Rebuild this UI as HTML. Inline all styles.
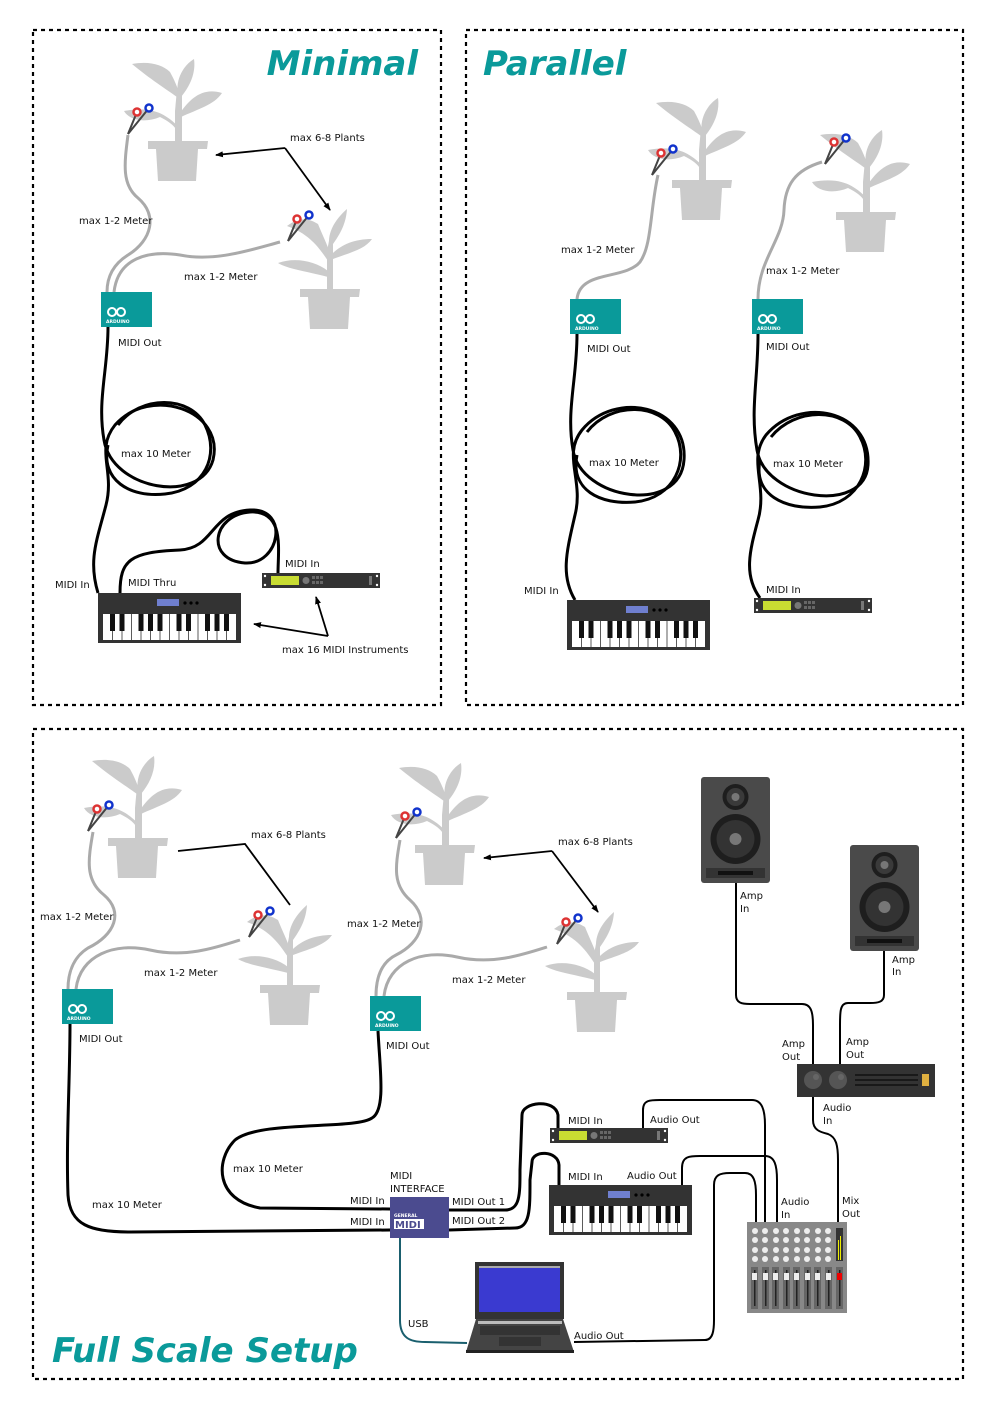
<!DOCTYPE html>
<html><head><meta charset="utf-8"><style>
html,body{margin:0;padding:0;background:#fff}
svg{display:block}
text{font-family:"DejaVu Sans","Liberation Sans",sans-serif;font-size:10px;fill:#111}
.t{font-weight:bold;font-style:italic;font-size:34px;fill:#0a9a9a}
.g{fill:none;stroke:#aaa;stroke-width:3}
.c{fill:none;stroke:#000;stroke-width:3}
.a{fill:none;stroke:#000;stroke-width:1.8}
.thin{fill:none;stroke:#000;stroke-width:2}
</style></head><body>
<svg width="992" height="1403" viewBox="0 0 992 1403" xmlns="http://www.w3.org/2000/svg">
<defs>
<marker id="ar" markerWidth="8" markerHeight="8" refX="7" refY="4" orient="auto" markerUnits="userSpaceOnUse"><path d="M0,1 L8,4 L0,7 z" fill="#000"/></marker>
<g id="plantA" fill="#cbcbcb">
 <path d="M-3,0 L-3,-30 L-1,-52 L4,-52 L4,-30 L4,0 z"/>
 <path d="M0,-46 C-3,-62 6,-76 16,-82 C18,-68 12,-55 3,-44 z"/>
 <path d="M-1,-44 C-12,-52 -28,-62 -46,-77 C-30,-80 -16,-77 -8,-69 C-3,-60 0,-52 2,-46 z"/>
 <path d="M2,-28 C12,-42 24,-54 44,-48 C36,-36 20,-32 3,-24 z"/>
 <path d="M1,-14 C-10,-24 -22,-36 -54,-30 C-48,-20 -32,-18 -18,-24 C-10,-20 -4,-16 -1,-10 z"/>
 <path d="M-30,0 L30,0 L29,8 L-30,8 z"/>
 <path d="M-22,8 L20,8 L18,40 L-20,40 z"/>
</g>
<g id="plantB" fill="#cbcbcb">
 <path d="M-3,0 L-3,-38 L-1,-48 L3,-48 L3,-38 L3,0 z"/>
 <path d="M-1,-45 C-2,-60 8,-72 17,-80 C16,-65 10,-55 3,-45 z"/>
 <path d="M2,-35 C12,-45 25,-50 42,-50 C35,-40 22,-37 3,-30 z"/>
 <path d="M-2,-18 C-15,-28 -35,-32 -52,-26 C-42,-20 -25,-18 -2,-12 z"/>
 <path d="M-2,-28 C-10,-40 -20,-55 -43,-63 C-30,-73 -20,-70 -12,-65 C-8,-55 -3,-45 0,-36 z"/>
 <path d="M-30,0 L30,0 L29,8 L-30,8 z"/>
 <path d="M-22,8 L20,8 L18,40 L-20,40 z"/>
</g>
<g id="ard">
 <rect x="0" y="0" width="51" height="35" fill="#0a9a9a"/>
 <circle cx="11" cy="20" r="4" fill="none" stroke="#fff" stroke-width="2"/>
 <circle cx="20" cy="20" r="4" fill="none" stroke="#fff" stroke-width="2"/>
 <text x="5" y="31" style="font-size:4.5px;fill:#fff;font-weight:bold">ARDUINO</text>
</g>
<g id="kb">
 <rect x="0" y="0" width="143" height="50" fill="#333"/>
 <rect x="59" y="6" width="22" height="7" fill="#6f7fcf"/>
 <circle cx="87" cy="10" r="1.6" fill="#000"/><circle cx="93" cy="10" r="1.6" fill="#000"/><circle cx="99" cy="10" r="1.6" fill="#000"/>
 <rect x="5" y="21" width="133" height="26" fill="#fff"/>
 <g stroke="#333" stroke-width="0.8">
  <line x1="14.5" y1="21" x2="14.5" y2="47"/><line x1="24" y1="21" x2="24" y2="47"/><line x1="33.5" y1="21" x2="33.5" y2="47"/><line x1="43" y1="21" x2="43" y2="47"/><line x1="52.5" y1="21" x2="52.5" y2="47"/><line x1="62" y1="21" x2="62" y2="47"/><line x1="71.5" y1="21" x2="71.5" y2="47"/><line x1="81" y1="21" x2="81" y2="47"/><line x1="90.5" y1="21" x2="90.5" y2="47"/><line x1="100" y1="21" x2="100" y2="47"/><line x1="109.5" y1="21" x2="109.5" y2="47"/><line x1="119" y1="21" x2="119" y2="47"/><line x1="128.5" y1="21" x2="128.5" y2="47"/>
 </g>
 <g fill="#111">
  <rect x="12" y="21" width="5" height="17"/><rect x="21.5" y="21" width="5" height="17"/><rect x="40.5" y="21" width="5" height="17"/><rect x="50" y="21" width="5" height="17"/><rect x="59.5" y="21" width="5" height="17"/><rect x="78.5" y="21" width="5" height="17"/><rect x="88" y="21" width="5" height="17"/><rect x="107" y="21" width="5" height="17"/><rect x="116.5" y="21" width="5" height="17"/><rect x="126" y="21" width="5" height="17"/>
 </g>
</g>
<g id="mod">
 <rect x="0" y="0" width="118" height="15" fill="#333"/>
 <rect x="9" y="3" width="28" height="9" fill="#c8dc32"/>
 <circle cx="44" cy="7.5" r="3.5" fill="#777"/>
 <g fill="#666"><rect x="50" y="3" width="3" height="3"/><rect x="54" y="3" width="3" height="3"/><rect x="58" y="3" width="3" height="3"/><rect x="50" y="8" width="3" height="3"/><rect x="54" y="8" width="3" height="3"/><rect x="58" y="8" width="3" height="3"/></g>
 <rect x="107" y="3" width="3" height="9" fill="#777"/>
 <g fill="#fff"><circle cx="3" cy="3" r="1.2"/><circle cx="3" cy="12" r="1.2"/><circle cx="115" cy="3" r="1.2"/><circle cx="115" cy="12" r="1.2"/></g>
</g>
<g id="el">
 <line x1="0" y1="0" x2="-9" y2="22" stroke="#444" stroke-width="2"/>
 <line x1="12" y1="-4" x2="-9" y2="22" stroke="#444" stroke-width="2"/>
 <circle cx="0" cy="0" r="3.5" fill="#fff" stroke="#d33" stroke-width="2.5"/>
 <circle cx="12" cy="-4" r="3.5" fill="#fff" stroke="#13c" stroke-width="2.5"/>
</g>
<g id="spk">
 <rect x="0" y="0" width="69" height="106" rx="3" fill="#4a4a4a"/>
 <circle cx="34.5" cy="20" r="13" fill="#1e1e1e"/><circle cx="34.5" cy="20" r="9" fill="#3a3a3a"/><circle cx="34.5" cy="20" r="4" fill="#777"/>
 <circle cx="34.5" cy="62" r="25" fill="#1e1e1e"/><circle cx="34.5" cy="62" r="19" fill="#333"/><circle cx="34.5" cy="62" r="6" fill="#777"/>
 <rect x="5" y="91" width="59" height="10" fill="#333"/><rect x="17" y="94" width="35" height="4" fill="#111"/>
</g>
</defs>

<g fill="none" stroke="#000" stroke-width="2.2" stroke-dasharray="4,4">
<rect x="33" y="30" width="408" height="675"/>
<rect x="466" y="30" width="497" height="675"/>
<rect x="33" y="729" width="930" height="650"/>
</g>
<text x="418" y="75" class="t" text-anchor="end">Minimal</text>
<text x="483" y="75" class="t">Parallel</text>
<text x="52" y="1362" class="t">Full Scale Setup</text>

<!-- ===== MINIMAL ===== -->
<use href="#plantA" x="178" y="141"/>
<use href="#plantB" x="330" y="289"/>
<path class="g" d="M128,135 C124,165 122,185 138,198 C158,215 152,240 128,255 C112,265 107,278 107,292"/>
<path class="g" d="M280,242 C250,250 215,262 180,255 C148,250 118,258 114,292"/>
<use href="#el" x="137" y="112"/>
<use href="#el" x="297" y="219"/>
<use href="#ard" x="101" y="292"/>
<path class="c" d="M108,327 C108,370 97,400 104,440 C112,490 200,505 213,460 C225,410 150,385 115,425 C95,450 115,470 106,505 C97,540 88,560 98,593"/>
<path class="c" d="M108,445 C100,480 130,498 165,494 C205,490 220,455 205,425 C190,395 140,395 118,425"/>
<path class="c" d="M120,593 C120,560 130,552 180,550 C215,548 210,512 250,510 C290,508 280,565 245,563 C205,560 212,515 250,512 C285,510 278,550 278,573"/>
<use href="#kb" x="98" y="593"/>
<use href="#mod" x="262" y="573"/>
<text x="79" y="224">max 1-2 Meter</text>
<text x="184" y="280">max 1-2 Meter</text>
<text x="118" y="346">MIDI Out</text>
<text x="121" y="457">max 10 Meter</text>
<text x="55" y="588">MIDI In</text>
<text x="128" y="586">MIDI Thru</text>
<text x="285" y="567">MIDI In</text>
<text x="290" y="141">max 6-8 Plants</text>
<text x="282" y="653">max 16 MIDI Instruments</text>
<path class="a" d="M285,148 L216,155" marker-end="url(#ar)"/>
<path class="a" d="M285,148 L330,210" marker-end="url(#ar)"/>
<path class="a" d="M328,636 L254,624" marker-end="url(#ar)"/>
<path class="a" d="M328,636 L316,597" marker-end="url(#ar)"/>

<!-- ===== PARALLEL ===== -->
<use href="#plantA" x="702" y="180"/>
<use href="#plantA" x="866" y="212"/>
<path class="g" d="M658,175 C650,210 652,245 640,262 C625,280 580,270 577,299"/>
<path class="g" d="M822,162 C795,170 785,185 784,210 C783,240 758,260 758,299"/>
<use href="#el" x="661" y="153"/>
<use href="#el" x="834" y="142"/>
<use href="#ard" x="570" y="299"/>
<use href="#ard" x="752" y="299"/>
<path class="c" d="M577,334 C577,380 566,410 573,450 C581,500 680,515 684,460 C688,405 615,390 582,430 C562,455 584,480 575,515 C567,550 560,575 575,600"/>
<path class="c" d="M577,455 C570,490 600,505 635,502 C675,498 690,460 675,432 C660,402 610,402 587,432"/>
<path class="c" d="M758,334 C758,380 750,410 757,450 C765,500 865,515 868,465 C871,410 800,395 766,435 C747,460 768,485 758,520 C750,550 743,575 760,598"/>
<path class="c" d="M760,460 C753,495 785,510 820,507 C860,503 875,465 860,437 C845,407 795,407 771,437"/>
<use href="#kb" x="567" y="600"/>
<use href="#mod" x="754" y="598"/>
<text x="561" y="253">max 1-2 Meter</text>
<text x="766" y="274">max 1-2 Meter</text>
<text x="587" y="352">MIDI Out</text>
<text x="766" y="350">MIDI Out</text>
<text x="589" y="466">max 10 Meter</text>
<text x="773" y="467">max 10 Meter</text>
<text x="524" y="594">MIDI In</text>
<text x="766" y="593">MIDI In</text>

<!-- ===== FULL ===== -->
<use href="#plantA" x="138" y="838"/>
<use href="#plantB" x="290" y="985"/>
<use href="#plantA" x="445" y="845"/>
<use href="#plantB" x="597" y="992"/>
<path class="g" d="M93,832 C88,860 85,880 104,895 C124,912 115,935 88,948 C72,958 68,975 68,989"/>
<path class="g" d="M240,940 C215,948 185,958 150,950 C115,942 80,955 76,989"/>
<path class="g" d="M400,840 C395,868 393,885 410,900 C430,918 422,942 396,955 C380,963 376,980 376,996"/>
<path class="g" d="M547,947 C522,955 492,965 457,957 C422,949 388,962 384,996"/>
<use href="#el" x="97" y="809"/>
<use href="#el" x="258" y="915"/>
<use href="#el" x="405" y="816"/>
<use href="#el" x="566" y="922"/>
<use href="#ard" x="62" y="989"/>
<use href="#ard" x="370" y="996"/>
<text x="251" y="838">max 6-8 Plants</text>
<text x="558" y="845">max 6-8 Plants</text>
<path class="a" d="M178,851 L245,844 L290,905"/>
<path class="a" d="M552,851 L484,858" marker-end="url(#ar)"/>
<path class="a" d="M552,851 L598,912" marker-end="url(#ar)"/>
<text x="40" y="920">max 1-2 Meter</text>
<text x="144" y="976">max 1-2 Meter</text>
<text x="347" y="927">max 1-2 Meter</text>
<text x="452" y="983">max 1-2 Meter</text>
<text x="79" y="1042">MIDI Out</text>
<text x="386" y="1049">MIDI Out</text>

<path class="c" d="M70,1024 C70,1080 66,1140 68,1195 C70,1225 90,1232 130,1232 L390,1230"/>
<path class="c" d="M378,1031 C380,1070 386,1110 372,1118 C355,1130 260,1120 235,1140 C215,1160 215,1200 260,1208 L390,1209"/>
<path class="c" d="M449,1210 L505,1210 C520,1210 520,1195 520,1170 L522,1115 C522,1102 555,1098 558,1115 L558,1128"/>
<path class="c" d="M449,1230 L515,1228 C530,1228 530,1210 530,1180 L532,1162 C532,1150 558,1150 559,1165 L559,1185"/>
<path class="thin" d="M643,1128 L643,1110 C643,1100 650,1100 660,1100 L752,1100 C762,1100 765,1110 765,1125 L765,1222"/>
<path class="thin" d="M682,1185 L682,1168 C682,1156 690,1156 700,1156 L765,1156 C775,1156 777,1166 777,1180 L777,1222"/>
<path class="thin" d="M574,1342 L705,1340 C713,1340 714,1330 714,1320 L714,1185 C714,1175 720,1173 730,1173 L745,1173 C754,1173 756,1182 756,1195 L756,1222"/>
<path class="thin" d="M736,883 L736,995 C736,1003 742,1004 750,1004 L802,1004 C811,1004 813,1012 813,1025 L813,1065"/>
<path class="thin" d="M884,950 L884,995 C884,1002 878,1003 870,1003 L848,1003 C840,1003 840,1012 840,1025 L840,1065"/>
<path class="thin" d="M813,1096 L813,1120 C813,1130 820,1132 828,1134 C836,1137 838,1145 838,1160 L838,1222"/>
<path fill="none" stroke="#1a5f6e" stroke-width="2" d="M400,1238 L400,1320 C400,1338 410,1342 425,1342 L467,1343"/>

<use href="#mod" x="550" y="1128"/>
<use href="#kb" x="549" y="1185"/>
<rect x="390" y="1197" width="59" height="41" fill="#4b4b8f"/>
<text x="394" y="1217" style="font-size:4.5px;fill:#fff;font-weight:bold">GENERAL</text>
<rect x="394" y="1219" width="30" height="10" fill="#fff"/>
<text x="395" y="1228" style="font-size:10px;fill:#4b4b8f;font-weight:bold">MIDI</text>
<rect x="475" y="1262" width="89" height="57" fill="#333"/>
<rect x="479" y="1266" width="81" height="46" fill="#3a3ad0"/>
<rect x="479" y="1266" width="81" height="2" fill="#aaa"/>
<path d="M476,1319 L563,1319 L574,1352 L466,1352 z" fill="#444"/>
<rect x="478" y="1321" width="84" height="3" fill="#bbb"/>
<rect x="480" y="1326" width="80" height="9" fill="#333"/>
<rect x="499" y="1337" width="42" height="9" fill="#333"/>
<rect x="466" y="1350" width="108" height="3" fill="#222"/>
<use href="#spk" x="701" y="777"/>
<use href="#spk" x="850" y="845"/>
<rect x="797" y="1064" width="138" height="33" fill="#333"/>
<circle cx="813" cy="1080" r="9" fill="#555"/><circle cx="816" cy="1077" r="3" fill="#666"/>
<circle cx="838" cy="1080" r="9" fill="#555"/><circle cx="841" cy="1077" r="3" fill="#666"/>
<g stroke="#111" stroke-width="1.5"><line x1="855" y1="1075" x2="918" y2="1075"/><line x1="855" y1="1080" x2="918" y2="1080"/><line x1="855" y1="1085" x2="918" y2="1085"/></g>
<rect x="922" y="1074" width="7" height="12" fill="#e0b040"/>
<rect x="747" y="1222" width="100" height="91" fill="#888"/>
<g fill="#eee">
<circle cx="755" cy="1231" r="3"/><circle cx="765" cy="1231" r="3"/><circle cx="776" cy="1231" r="3"/><circle cx="786" cy="1231" r="3"/><circle cx="797" cy="1231" r="3"/><circle cx="807" cy="1231" r="3"/><circle cx="818" cy="1231" r="3"/><circle cx="828" cy="1231" r="3"/>
<circle cx="755" cy="1240" r="3"/><circle cx="765" cy="1240" r="3"/><circle cx="776" cy="1240" r="3"/><circle cx="786" cy="1240" r="3"/><circle cx="797" cy="1240" r="3"/><circle cx="807" cy="1240" r="3"/><circle cx="818" cy="1240" r="3"/><circle cx="828" cy="1240" r="3"/>
<circle cx="755" cy="1250" r="3"/><circle cx="765" cy="1250" r="3"/><circle cx="776" cy="1250" r="3"/><circle cx="786" cy="1250" r="3"/><circle cx="797" cy="1250" r="3"/><circle cx="807" cy="1250" r="3"/><circle cx="818" cy="1250" r="3"/><circle cx="828" cy="1250" r="3"/>
<circle cx="755" cy="1259" r="3"/><circle cx="765" cy="1259" r="3"/><circle cx="776" cy="1259" r="3"/><circle cx="786" cy="1259" r="3"/><circle cx="797" cy="1259" r="3"/><circle cx="807" cy="1259" r="3"/><circle cx="818" cy="1259" r="3"/><circle cx="828" cy="1259" r="3"/>
</g>
<rect x="836" y="1228" width="7" height="33" fill="#333"/><rect x="838" y="1240" width="1" height="20" fill="#ee0"/><rect x="840" y="1236" width="1" height="24" fill="#ee0"/>
<g fill="#666"><rect x="751" y="1267" width="7" height="42"/><rect x="762" y="1267" width="7" height="42"/><rect x="772" y="1267" width="7" height="42"/><rect x="783" y="1267" width="7" height="42"/><rect x="793" y="1267" width="7" height="42"/><rect x="804" y="1267" width="7" height="42"/><rect x="814" y="1267" width="7" height="42"/><rect x="825" y="1267" width="7" height="42"/><rect x="836" y="1267" width="7" height="42"/></g>
<g fill="#222"><rect x="754" y="1270" width="1.5" height="36"/><rect x="765" y="1270" width="1.5" height="36"/><rect x="775" y="1270" width="1.5" height="36"/><rect x="786" y="1270" width="1.5" height="36"/><rect x="796" y="1270" width="1.5" height="36"/><rect x="807" y="1270" width="1.5" height="36"/><rect x="817" y="1270" width="1.5" height="36"/><rect x="828" y="1270" width="1.5" height="36"/><rect x="839" y="1270" width="1.5" height="36"/></g>
<g fill="#eee"><rect x="752" y="1273" width="5" height="7"/><rect x="763" y="1273" width="5" height="7"/><rect x="773" y="1273" width="5" height="7"/><rect x="784" y="1273" width="5" height="7"/><rect x="794" y="1273" width="5" height="7"/><rect x="805" y="1273" width="5" height="7"/><rect x="815" y="1273" width="5" height="7"/><rect x="826" y="1273" width="5" height="7"/></g>
<rect x="837" y="1273" width="5" height="7" fill="#e00"/>

<text x="233" y="1172">max 10 Meter</text>
<text x="92" y="1208">max 10 Meter</text>
<text x="390" y="1179">MIDI</text>
<text x="390" y="1192">INTERFACE</text>
<text x="350" y="1204">MIDI In</text>
<text x="350" y="1225">MIDI In</text>
<text x="452" y="1205">MIDI Out 1</text>
<text x="452" y="1224">MIDI Out 2</text>
<text x="568" y="1124">MIDI In</text>
<text x="650" y="1123">Audio Out</text>
<text x="568" y="1180">MIDI In</text>
<text x="627" y="1179">Audio Out</text>
<text x="408" y="1327">USB</text>
<text x="574" y="1339">Audio Out</text>
<text x="740" y="899">Amp</text><text x="740" y="912">In</text>
<text x="892" y="963">Amp</text><text x="892" y="975">In</text>
<text x="782" y="1047">Amp</text><text x="782" y="1060">Out</text>
<text x="846" y="1045">Amp</text><text x="846" y="1058">Out</text>
<text x="823" y="1111">Audio</text><text x="823" y="1124">In</text>
<text x="781" y="1205">Audio</text><text x="781" y="1218">In</text>
<text x="842" y="1204">Mix</text><text x="842" y="1217">Out</text>
</svg>
</body></html>
